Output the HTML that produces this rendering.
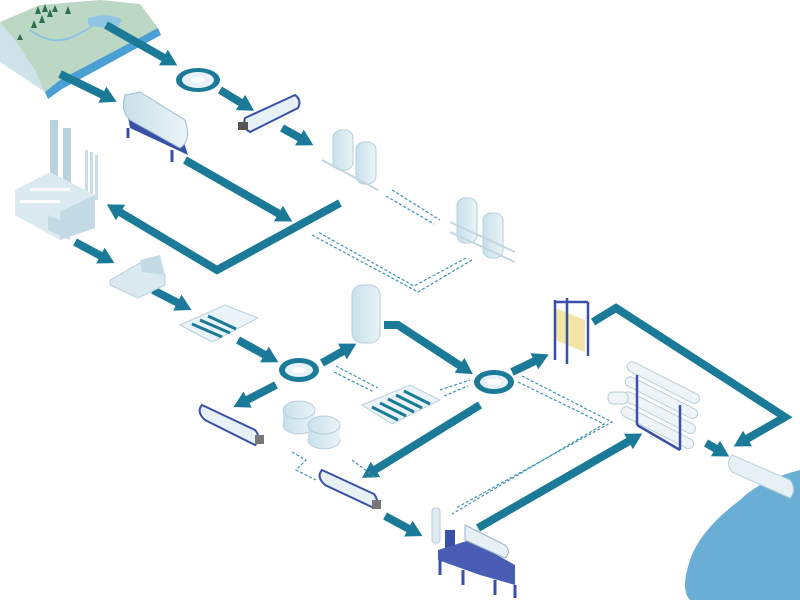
<!DOCTYPE html>
<html><head><meta charset="utf-8"><style>
html,body{margin:0;padding:0;background:#fff;}
svg{display:block;}
</style></head><body>
<svg width="800" height="600" viewBox="0 0 800 600" xmlns="http://www.w3.org/2000/svg">
<defs>
<marker id="ah" markerWidth="16" markerHeight="18" refX="3" refY="9" orient="auto" markerUnits="userSpaceOnUse">
<path d="M0,0 L16,9 L0,18 z" fill="#1b7a97"/>
</marker>
<linearGradient id="tank" x1="0" x2="1"><stop offset="0" stop-color="#c9e0ea"/><stop offset="1" stop-color="#e9f3f7"/></linearGradient>
</defs>

<!-- landscape -->
<polygon points="0,22 40,5 100,0 140,4 158,28 130,50 60,80 45,92 0,60" fill="#bcd7c4"/>
<polygon points="0,22 15,40 35,70 45,92 0,62" fill="#cfe2ea"/>
<path d="M60,80 L158,28 L161,35 L62,89 Z" fill="#4a9fd4"/>
<path d="M45,92 L60,80 L62,89 L48,99 Z" fill="#4a9fd4"/>
<path d="M88,18 Q110,12 122,20 L118,26 Q100,30 88,24 Z" fill="#8fc4e2"/>
<path d="M30,30 Q50,45 70,38 Q85,32 100,20" stroke="#8fc4e2" stroke-width="2" fill="none"/>
<g fill="#2d6e4f">
<polygon points="38,6 35,14 41,14"/><polygon points="45,4 42,12 48,12"/><polygon points="50,9 47,17 53,17"/>
<polygon points="42,15 39,23 45,23"/><polygon points="34,20 31,28 37,28"/><polygon points="68,6 65,14 71,14"/>
<polygon points="20,34 17,40 23,40"/><polygon points="55,5 52,12 58,12"/>
</g>

<!-- lake -->
<path d="M800,470 Q760,480 740,500 Q700,530 690,560 Q680,590 690,600 L800,600 Z" fill="#6aaed6"/>
<path d="M732,455 L790,480 Q797,490 790,498 L732,472 Q725,463 732,455 Z" fill="#e7f0f4" stroke="#b9cfd9"/>

<!-- thick arrows -->
<g stroke="#1b7a97" stroke-width="8" fill="none" marker-end="url(#ah)">
<line x1="106" y1="25" x2="166" y2="59"/>
<line x1="60" y1="74" x2="105" y2="96"/>
<line x1="220" y1="90" x2="243" y2="104"/>
<line x1="282" y1="128" x2="302" y2="139"/>
<line x1="185" y1="160" x2="281" y2="215"/>
<polyline points="340,203 217,270 118,211"/>
<line x1="75" y1="242" x2="103" y2="257"/>
<line x1="153" y1="290" x2="180" y2="304"/>
<line x1="238" y1="340" x2="267" y2="356"/>
<line x1="276" y1="385" x2="245" y2="401"/>
<line x1="322" y1="363" x2="345" y2="350"/>
<polyline points="384,325 398,325 462,367"/>
<line x1="512" y1="372" x2="537" y2="360"/>
<line x1="480" y1="405" x2="373" y2="471"/>
<line x1="385" y1="516" x2="411" y2="530"/>
<line x1="478" y1="528" x2="631" y2="440"/>
<polyline points="593,322 616,308 785,417 745,440"/>
<line x1="706" y1="443" x2="718" y2="450"/>
</g>

<!-- dashed double arrows -->
<g stroke="#3a93b0" stroke-width="1.2" fill="none" stroke-dasharray="3,2">
<line x1="392" y1="190" x2="440" y2="220"/><line x1="386" y1="196" x2="434" y2="224"/>
<polyline points="472,260 418,292 312,235"/><polyline points="466,258 414,286 318,232"/>
<line x1="336" y1="366" x2="378" y2="388"/><line x1="334" y1="372" x2="374" y2="392"/>
<line x1="440" y1="390" x2="470" y2="380"/><line x1="444" y1="396" x2="468" y2="386"/>
<polyline points="522,376 612,422 456,508"/><polyline points="518,382 604,424 452,514"/>
<polyline points="292,452 306,460 296,470 316,480"/><polyline points="352,460 376,478"/>
</g>

<!-- round clarifiers -->
<g>
<ellipse cx="198" cy="80" rx="22" ry="12" fill="#1b7a97"/><ellipse cx="198" cy="80" rx="16" ry="8" fill="#e6f2f7"/><ellipse cx="198" cy="80" rx="7" ry="3" fill="#fff"/>
<ellipse cx="299" cy="370" rx="20" ry="12" fill="#1b7a97"/><ellipse cx="299" cy="370" rx="14" ry="7" fill="#e6f2f7"/><ellipse cx="299" cy="370" rx="7" ry="3" fill="#fff"/>
<ellipse cx="494" cy="382" rx="20" ry="12" fill="#1b7a97"/><ellipse cx="494" cy="382" rx="14" ry="7" fill="#e6f2f7"/><ellipse cx="494" cy="382" rx="7" ry="3" fill="#fff"/>
</g>

<!-- evaporator -->
<g>
<path d="M125,100 L180,130 L188,155 L130,128 Z" fill="#3a4fa8"/>
<path d="M125,95 Q120,110 130,120 L180,148 Q192,140 185,120 L140,92 Z" fill="url(#tank)" stroke="#9bbfcf"/>
<line x1="128" y1="128" x2="128" y2="138" stroke="#3a4fa8" stroke-width="3"/>
<line x1="172" y1="150" x2="172" y2="162" stroke="#3a4fa8" stroke-width="3"/>
</g>

<!-- decanters -->
<g>
<path d="M245,118 L295,95 Q302,100 298,108 L250,132 Q242,128 245,118 Z" fill="#e6f0f5" stroke="#3a4fa8" stroke-width="2"/>
<rect x="238" y="122" width="10" height="8" fill="#555"/>
<path d="M202,405 L255,430 Q262,438 255,445 L205,420 Q196,412 202,405 Z" fill="#e6f0f5" stroke="#3a4fa8" stroke-width="2"/>
<rect x="255" y="435" width="9" height="9" fill="#777"/>
<path d="M322,470 L374,494 Q380,502 374,508 L325,485 Q316,477 322,470 Z" fill="#e6f0f5" stroke="#3a4fa8" stroke-width="2"/>
<rect x="372" y="500" width="9" height="9" fill="#777"/>
</g>

<!-- tanks -->
<g fill="url(#tank)" stroke="#b5cfdb">
<rect x="333" y="130" width="20" height="40" rx="8"/><rect x="356" y="142" width="20" height="42" rx="8"/>
<rect x="457" y="198" width="20" height="45" rx="8"/><rect x="483" y="213" width="20" height="45" rx="8"/>
<rect x="352" y="285" width="28" height="58" rx="10"/>
</g>
<g stroke="#c2d6df" stroke-width="2" fill="none">
<line x1="322" y1="160" x2="378" y2="190"/><line x1="450" y1="222" x2="515" y2="252"/><line x1="450" y1="232" x2="515" y2="262"/>
</g>

<!-- factory -->
<g>
<rect x="50" y="120" width="8" height="60" fill="#b8d2de"/><rect x="63" y="128" width="8" height="60" fill="#b8d2de"/>
<rect x="85" y="150" width="3" height="45" fill="#c9dde7"/><rect x="90" y="152" width="3" height="45" fill="#c9dde7"/><rect x="95" y="155" width="3" height="45" fill="#c9dde7"/>
<polygon points="15,190 50,172 95,195 95,228 60,240 15,215" fill="#dbe9f0"/>
<polygon points="60,212 95,195 95,228 60,240" fill="#c4dbe6"/>
<polygon points="48,215 70,225 70,240 48,230" fill="#c4dbe6"/>
<g fill="#fff"><rect x="30" y="188" width="40" height="3"/><rect x="20" y="200" width="40" height="3"/></g>
</g>

<!-- small building -->
<polygon points="110,280 140,263 165,275 165,285 138,298 110,285" fill="#dbe9f0" stroke="#b8d0dc"/>
<polygon points="140,260 160,255 165,275 142,272" fill="#c4dbe6"/>

<!-- filter plates -->
<polygon points="180,325 225,305 258,318 212,342" fill="#eaf3f7" stroke="#b9d1dc"/>
<g stroke="#1b7a97" stroke-width="3"><line x1="192" y1="324" x2="222" y2="337"/><line x1="200" y1="320" x2="230" y2="333"/><line x1="208" y1="316" x2="236" y2="329"/></g>
<polygon points="362,405 410,385 440,400 392,424" fill="#eaf3f7" stroke="#b9d1dc"/>
<g stroke="#1b7a97" stroke-width="3"><line x1="372" y1="407" x2="398" y2="420"/><line x1="380" y1="403" x2="406" y2="416"/><line x1="388" y1="399" x2="414" y2="412"/><line x1="396" y1="395" x2="422" y2="408"/><line x1="404" y1="391" x2="430" y2="404"/></g>

<!-- round basins -->
<g fill="url(#tank)" stroke="#b8d0dc">
<ellipse cx="299" cy="425" rx="16" ry="9"/><rect x="283" y="410" width="32" height="15" stroke="none"/><ellipse cx="299" cy="410" rx="16" ry="9"/>
<ellipse cx="324" cy="440" rx="16" ry="9"/><rect x="308" y="425" width="32" height="15" stroke="none"/><ellipse cx="324" cy="425" rx="16" ry="9"/>
</g>

<!-- membrane frame -->
<g>
<polygon points="555,308 585,320 585,352 555,340" fill="#f3e4a8"/>
<g stroke="#3a4fa8" stroke-width="2.5" fill="none"><line x1="555" y1="300" x2="555" y2="360"/><line x1="588" y1="302" x2="588" y2="356"/><line x1="567" y1="298" x2="567" y2="364"/><line x1="555" y1="302" x2="588" y2="302"/></g>
</g>

<!-- RO rack -->
<g>
<g fill="#eef4f7" stroke="#b8cfda">
<rect x="630" y="360" width="80" height="10" rx="5" transform="rotate(27 630 360)"/>
<rect x="628" y="375" width="80" height="10" rx="5" transform="rotate(27 628 375)"/>
<rect x="626" y="390" width="80" height="10" rx="5" transform="rotate(27 626 390)"/>
<rect x="624" y="405" width="80" height="10" rx="5" transform="rotate(27 624 405)"/>
</g>
<g stroke="#3a4fa8" stroke-width="2.5"><line x1="637" y1="375" x2="637" y2="425"/><line x1="680" y1="405" x2="680" y2="450"/><line x1="637" y1="425" x2="680" y2="450"/></g>
<rect x="608" y="392" width="20" height="12" rx="5" fill="#eef4f7" stroke="#b8cfda"/>
</g>

<!-- bottom skid -->
<g>
<rect x="432" y="508" width="8" height="35" rx="3" fill="#dfeaf0" stroke="#b8cfda"/>
<rect x="445" y="530" width="10" height="20" fill="#3a4fa8"/>
<polygon points="438,550 470,540 515,565 515,585 480,575 438,560" fill="#4a5db5"/>
<path d="M465,525 L505,545 Q512,552 505,558 L465,540 Z" fill="#e6f0f5" stroke="#9bb6c6"/>
<g stroke="#3a4fa8" stroke-width="3"><line x1="440" y1="560" x2="440" y2="575"/><line x1="463" y1="570" x2="463" y2="585"/><line x1="495" y1="580" x2="495" y2="595"/><line x1="515" y1="585" x2="515" y2="598"/></g>
</g>
</svg>
</body></html>
